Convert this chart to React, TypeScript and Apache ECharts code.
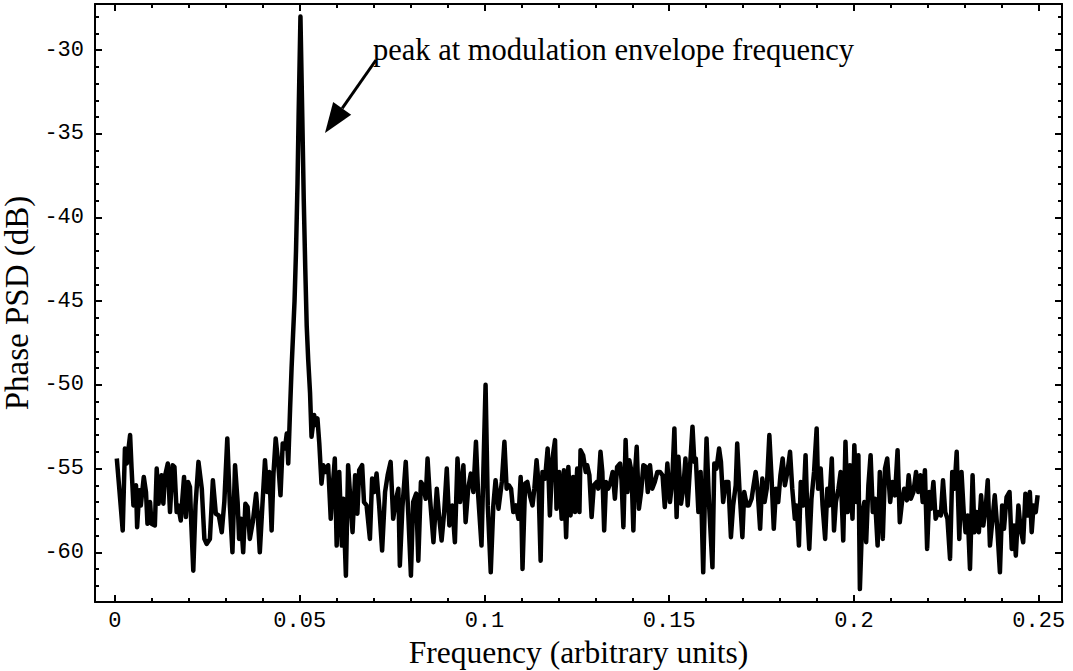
import { useEffect, useRef } from "react";
import * as echarts from "echarts";

// Phase PSD (dB) vs frequency
const noiseBelowPeak: number[][] = [
  [0.0005, -54.4], [0.0011, -56.0], [0.0021, -58.7], [0.0027, -53.8], [0.0032, -54.7], [0.0041, -53.0],
  [0.0045, -55.0], [0.005, -57.2], [0.0057, -56.0], [0.006, -58.5], [0.0066, -56.3], [0.007, -57.2],
  [0.0078, -55.5], [0.0084, -56.4], [0.0088, -58.3], [0.0095, -57.0], [0.0099, -58.3], [0.0108, -58.4],
  [0.0113, -55.0], [0.0118, -57.1], [0.0126, -55.4], [0.0131, -57.1], [0.0135, -55.5], [0.0143, -54.7],
  [0.0149, -57.6], [0.0156, -54.8], [0.0161, -54.9], [0.0167, -57.6], [0.0171, -57.2], [0.0178, -58.1],
  [0.0187, -55.5], [0.0192, -57.9], [0.0198, -55.8], [0.0203, -56.1], [0.0206, -58.0], [0.0212, -61.1],
  [0.0218, -57.2], [0.0226, -54.6], [0.0235, -56.2], [0.0242, -59.2], [0.0248, -59.5], [0.0257, -59.2],
  [0.0265, -55.7], [0.0273, -57.7], [0.0281, -57.8], [0.0289, -58.8], [0.0296, -57.0], [0.0304, -53.2],
  [0.0311, -57.2], [0.0318, -60.0], [0.0325, -54.8], [0.0332, -57.0], [0.0336, -59.2], [0.0341, -58.0],
  [0.0347, -60.0], [0.0353, -57.1], [0.0359, -57.3], [0.0365, -59.2], [0.0373, -58.2], [0.0382, -56.5],
  [0.0386, -57.6], [0.0392, -60.0], [0.0399, -57.2], [0.0406, -54.5], [0.0412, -56.4], [0.0418, -55.2],
  [0.0424, -58.7], [0.0429, -55.3], [0.0435, -53.2], [0.0442, -54.7], [0.0448, -56.6], [0.0454, -53.5],
  [0.046, -53.8], [0.0465, -52.9], [0.0469, -54.7],
];

const envelopePeak: number[][] = [
  [0.0474, -51.4], [0.0478, -49.0], [0.0482, -47.0], [0.0486, -45.0], [0.049, -42.0], [0.0494, -38.0],
  [0.0497, -34.0], [0.0502, -28.0], [0.0507, -34.0], [0.0511, -39.0], [0.0515, -43.0], [0.0519, -46.5],
  [0.0523, -48.5], [0.0528, -50.5], [0.0532, -53.1], [0.0539, -51.8], [0.0544, -52.4], [0.0548, -52.0],
  [0.0553, -53.5],
];

const noiseMid: number[][] = [
  [0.0559, -55.9], [0.0564, -54.8], [0.0571, -55.2], [0.0577, -54.8], [0.0584, -58.0], [0.0589, -56.2],
  [0.0595, -54.4], [0.06, -59.6], [0.0607, -55.2], [0.0614, -59.6], [0.0618, -56.8], [0.0625, -61.4],
  [0.0631, -54.8], [0.0643, -58.8], [0.065, -55.4], [0.0656, -57.7], [0.0661, -55.1], [0.0669, -54.8],
  [0.0674, -57.0], [0.0681, -57.2], [0.069, -59.2], [0.0696, -55.6], [0.0702, -56.4], [0.0708, -55.3],
  [0.0715, -57.2], [0.0723, -59.9], [0.0731, -56.4], [0.0738, -55.4], [0.0746, -54.6], [0.0753, -58.0],
  [0.0761, -56.8], [0.0767, -56.2], [0.0771, -60.8], [0.0778, -57.3], [0.0787, -54.6], [0.0794, -57.8],
  [0.0801, -61.4], [0.0807, -57.0], [0.0815, -56.5], [0.0821, -60.5], [0.0828, -55.8], [0.0834, -56.0],
  [0.0841, -56.8], [0.0846, -54.4], [0.0852, -56.6], [0.0862, -59.4], [0.0871, -56.2], [0.0877, -57.8],
  [0.0884, -59.3], [0.0891, -57.6], [0.0898, -55.0], [0.0905, -58.4], [0.0913, -57.2], [0.092, -59.4],
  [0.0927, -54.4], [0.0934, -57.0], [0.0943, -54.8], [0.0949, -58.2], [0.0956, -56.2], [0.0963, -55.3],
  [0.097, -56.4], [0.0977, -53.4], [0.0983, -56.6], [0.0992, -59.6], [0.0997, -55.2], [0.1003, -50.0],
  [0.1009, -57.2], [0.1017, -61.2], [0.1024, -57.2], [0.103, -55.7], [0.1038, -57.4], [0.1047, -55.8],
  [0.1054, -53.4], [0.106, -56.2], [0.1066, -56.0], [0.1072, -56.2], [0.1078, -57.6], [0.1085, -57.2],
  [0.1092, -58.0], [0.1098, -55.5], [0.1103, -61.0], [0.111, -55.9], [0.1116, -55.8], [0.1123, -56.6],
  [0.113, -57.2], [0.1135, -56.2], [0.1141, -54.5], [0.1146, -55.8], [0.1152, -60.5], [0.1157, -55.2],
  [0.1164, -55.6], [0.1171, -53.8], [0.1177, -57.8], [0.1184, -54.4], [0.1191, -53.3], [0.1195, -57.4],
  [0.1202, -55.2], [0.1209, -58.0], [0.1215, -55.1], [0.1221, -59.1], [0.1227, -54.9], [0.1233, -57.8],
  [0.124, -55.5],
];

const noiseHigh: number[][] = [
  [0.1245, -57.6], [0.1251, -55.0], [0.1257, -57.6], [0.126, -53.9], [0.1267, -54.2], [0.1274, -55.2],
  [0.1278, -54.8], [0.1284, -55.4], [0.129, -57.9], [0.1296, -56.0], [0.1304, -55.8], [0.1308, -56.2],
  [0.1314, -54.0], [0.1319, -55.2], [0.1324, -58.7], [0.1329, -55.8], [0.1335, -56.2], [0.1341, -55.8],
  [0.1347, -55.2], [0.1353, -56.8], [0.1359, -54.9], [0.1367, -54.7], [0.1371, -55.7], [0.1376, -58.5],
  [0.1382, -53.3], [0.1387, -56.4], [0.1392, -54.5], [0.1398, -55.2], [0.1403, -58.7], [0.1407, -55.4],
  [0.1412, -53.7], [0.1418, -57.4], [0.1424, -56.4], [0.143, -54.8], [0.1437, -54.9], [0.1442, -56.4],
  [0.1448, -54.8], [0.1454, -56.2], [0.1461, -55.8], [0.1468, -55.2], [0.1475, -55.2], [0.1482, -55.4],
  [0.1488, -57.3], [0.1495, -54.7], [0.1502, -57.0], [0.1508, -55.8], [0.1514, -52.6], [0.152, -57.9],
  [0.1525, -54.3], [0.1532, -57.1], [0.1538, -56.2], [0.1544, -54.4], [0.155, -57.2], [0.1556, -55.0],
  [0.1563, -52.5], [0.1568, -54.6], [0.1572, -54.4], [0.1579, -57.6], [0.1585, -55.2], [0.1592, -61.2],
  [0.1597, -56.2], [0.1601, -53.2], [0.1608, -57.2], [0.1617, -60.9], [0.1622, -54.7], [0.1628, -55.0],
  [0.1635, -53.8], [0.164, -54.6], [0.1646, -57.0], [0.1653, -55.8], [0.166, -55.8], [0.1667, -59.1],
  [0.1673, -57.2], [0.168, -56.0], [0.1684, -53.5], [0.169, -56.2], [0.1698, -59.1], [0.1703, -56.4],
  [0.171, -57.2], [0.1716, -57.2], [0.1723, -56.8], [0.1727, -56.2], [0.1734, -55.2], [0.1739, -56.2],
  [0.1746, -58.6], [0.1752, -55.6], [0.1758, -57.0], [0.1764, -56.2], [0.1771, -53.0], [0.1777, -55.6],
  [0.1783, -58.6], [0.1789, -56.2], [0.1795, -57.0], [0.1801, -55.4], [0.1807, -54.4], [0.1813, -56.0],
  [0.182, -55.2], [0.1827, -54.0], [0.1833, -56.2], [0.184, -58.0], [0.1845, -57.2], [0.1851, -59.6],
  [0.1856, -55.8], [0.1863, -57.2], [0.1869, -54.2], [0.1874, -57.8], [0.1879, -59.8],
];

const noiseTop: number[][] = [
  [0.1885, -56.8], [0.1892, -55.2], [0.1899, -52.6], [0.1903, -56.2], [0.191, -55.0], [0.1915, -57.2],
  [0.1922, -59.2], [0.1928, -56.2], [0.1933, -57.2], [0.194, -54.4], [0.1946, -58.7], [0.1951, -57.0],
  [0.1958, -56.2], [0.1964, -55.2], [0.1971, -59.3], [0.1977, -53.4], [0.1983, -57.6], [0.1989, -54.8],
  [0.1996, -58.0], [0.2001, -53.6], [0.2007, -57.0], [0.2012, -54.2], [0.2016, -62.2], [0.2023, -57.6],
  [0.2028, -57.0], [0.2033, -59.4], [0.2039, -56.0], [0.2045, -54.2], [0.2051, -57.6], [0.2057, -56.8],
  [0.2064, -59.6], [0.207, -55.2], [0.2078, -59.2], [0.2084, -55.0], [0.209, -54.4], [0.2098, -57.0],
  [0.2104, -55.8], [0.2111, -56.6], [0.2118, -53.9], [0.2124, -58.2], [0.2131, -56.8], [0.2136, -56.2],
  [0.2143, -56.9], [0.2148, -55.4], [0.2154, -56.8], [0.2161, -56.4], [0.2168, -55.2], [0.2174, -56.4],
  [0.218, -55.4], [0.2186, -57.0], [0.2192, -55.1], [0.2198, -59.8], [0.2204, -56.4], [0.2208, -57.4],
  [0.2215, -55.8], [0.2221, -58.0], [0.2228, -57.6], [0.2235, -57.8], [0.2241, -55.7], [0.2247, -57.6],
  [0.2253, -58.0], [0.226, -60.4], [0.2266, -55.2], [0.2272, -56.2], [0.2278, -54.0], [0.2285, -59.2],
  [0.2291, -55.2], [0.2297, -57.6], [0.2302, -58.8], [0.2308, -57.8], [0.2314, -61.0], [0.2321, -55.4],
  [0.2326, -58.8], [0.2332, -57.6], [0.2338, -58.8], [0.2344, -56.6], [0.235, -58.4], [0.2357, -57.2],
  [0.2362, -55.7], [0.2368, -59.6], [0.2375, -58.0], [0.2381, -56.6], [0.2388, -58.6], [0.2395, -61.2],
  [0.2401, -57.2], [0.2406, -58.6], [0.2413, -56.7], [0.2421, -56.4], [0.2427, -59.8], [0.2433, -58.4],
  [0.2438, -60.2], [0.2445, -57.2], [0.2451, -58.6], [0.2458, -59.4], [0.2464, -56.5], [0.247, -57.8],
  [0.2476, -56.4], [0.2481, -58.8], [0.2486, -57.2], [0.2492, -57.6], [0.2497, -56.6],
];

const xMajorTicks = [0, 0.05, 0.1, 0.15, 0.2, 0.25];
const xMinorTicks = [
  0, 0.01, 0.02, 0.03, 0.04, 0.05, 0.06, 0.07, 0.08, 0.09, 0.1, 0.11, 0.12, 0.13, 0.14, 0.15, 0.16,
  0.17, 0.18, 0.19, 0.2, 0.21, 0.22, 0.23, 0.24, 0.25,
];
const yMajorTicks = [-60, -55, -50, -45, -40, -35, -30];
const yMinorTicks = [
  -62, -61, -60, -59, -58, -57, -56, -55, -54, -53, -52, -51, -50, -49, -48, -47, -46, -45, -44, -43,
  -42, -41, -40, -39, -38, -37, -36, -35, -34, -33, -32, -31, -30, -29, -28,
];

const X_MIN = -0.0054;
const X_MAX = 0.2563;
const Y_MIN = -62.97;
const Y_MAX = -27.25;

const xTitle = "Frequency (arbitrary units)";
const yTitle = "Phase PSD (dB)";
const annotation = "peak at modulation envelope frequency";

const MONO = '"Liberation Mono", "DejaVu Sans Mono", monospace';
const SERIF = '"Liberation Serif", "DejaVu Serif", serif';

export default function App() {
  const ref = useRef<HTMLDivElement>(null);

  useEffect(() => {
    const chart = echarts.init(ref.current!, null, { renderer: "svg" });
    const grid = { left: 95, top: 4, width: 967, height: 598, containLabel: false, outerBoundsMode: "none" };

    const lineShown = { show: true, onZero: false, lineStyle: { color: "#000", width: 2 } };
    const lineHidden = { show: false, onZero: false };
    const mkX = (gridIndex: number, position: string, ticks: number[], len: number, label: boolean, withLine: boolean, extra: any = {}) => ({
      type: "value",
      gridIndex,
      position,
      min: X_MIN,
      max: X_MAX,
      axisLine: withLine ? lineShown : lineHidden,
      axisTick: { show: true, inside: true, length: len, customValues: ticks, lineStyle: { color: "#000", width: 2 } },
      axisLabel: label
        ? { show: true, customValues: ticks, margin: 8, color: "#000", fontFamily: MONO, fontSize: 22, formatter: (v: number) => String(v) }
        : { show: false },
      splitLine: { show: false },
      ...extra,
    });
    const mkY = (gridIndex: number, position: string, ticks: number[], len: number, label: boolean, withLine: boolean, extra: any = {}) => ({
      type: "value",
      gridIndex,
      position,
      min: Y_MIN,
      max: Y_MAX,
      axisLine: withLine ? lineShown : lineHidden,
      axisTick: { show: true, inside: true, length: len, customValues: ticks, lineStyle: { color: "#000", width: 2 } },
      axisLabel: label
        ? { show: true, customValues: ticks, margin: 11, color: "#000", fontFamily: MONO, fontSize: 22, formatter: (v: number) => String(v) }
        : { show: false },
      splitLine: { show: false },
      ...extra,
    });

    const data = [...noiseBelowPeak, ...envelopePeak, ...noiseMid, ...noiseHigh, ...noiseTop];

    // arrow geometry (annotation, pixel coords)
    const tail = [376, 60];
    const tip = [325, 133];
    const dx = tip[0] - tail[0];
    const dy = tip[1] - tail[1];
    const L = Math.hypot(dx, dy);
    const ux = dx / L, uy = dy / L;
    const headLen = 30, headHalf = 11;
    const bx = tip[0] - ux * headLen, by = tip[1] - uy * headLen;
    const px = -uy, py = ux;

    chart.setOption({
      animation: false,
      backgroundColor: "#fff",
      grid: [grid, { ...grid }],
      xAxis: [
        mkX(0, "bottom", xMajorTicks, 7, true, true, {
          name: xTitle,
          nameLocation: "middle",
          nameGap: 29,
          nameTextStyle: { color: "#000", fontFamily: SERIF, fontSize: 31.5 },
        }),
        mkX(0, "top", xMajorTicks, 7, false, true),
        mkX(1, "bottom", xMinorTicks, 4, false, false),
        mkX(1, "top", xMinorTicks, 4, false, false),
      ],
      yAxis: [
        mkY(0, "left", yMajorTicks, 7, true, true, {
          name: yTitle,
          nameLocation: "middle",
          nameGap: 58,
          nameTextStyle: { color: "#000", fontFamily: SERIF, fontSize: 33 },
        }),
        mkY(0, "right", yMajorTicks, 7, false, true),
        mkY(1, "left", yMinorTicks, 4, false, false),
        mkY(1, "right", yMinorTicks, 4, false, false),
      ],
      series: [
        {
          type: "line",
          xAxisIndex: 0,
          yAxisIndex: 0,
          data,
          showSymbol: false,
          symbol: "none",
          lineStyle: { color: "#000", width: 4.5, join: "round" },
          z: 3,
        },
      ],
      graphic: [
        {
          type: "text",
          x: 373,
          y: 50,
          style: { text: annotation, fill: "#000", font: `30.5px ${SERIF}`, verticalAlign: "middle", align: "left" },
        },
        {
          type: "line",
          shape: { x1: tail[0], y1: tail[1], x2: bx, y2: by },
          style: { stroke: "#000", lineWidth: 3 },
        },
        {
          type: "polygon",
          shape: {
            points: [
              [tip[0], tip[1]],
              [bx + px * headHalf, by + py * headHalf],
              [bx - px * headHalf, by - py * headHalf],
            ],
          },
          style: { fill: "#000" },
        },
      ],
    });

    return () => chart.dispose();
  }, []);

  return (
    <div
      ref={ref}
      style={{ position: "absolute", left: 0, top: 0, width: 1073, height: 671, background: "#fff" }}
    />
  );
}
